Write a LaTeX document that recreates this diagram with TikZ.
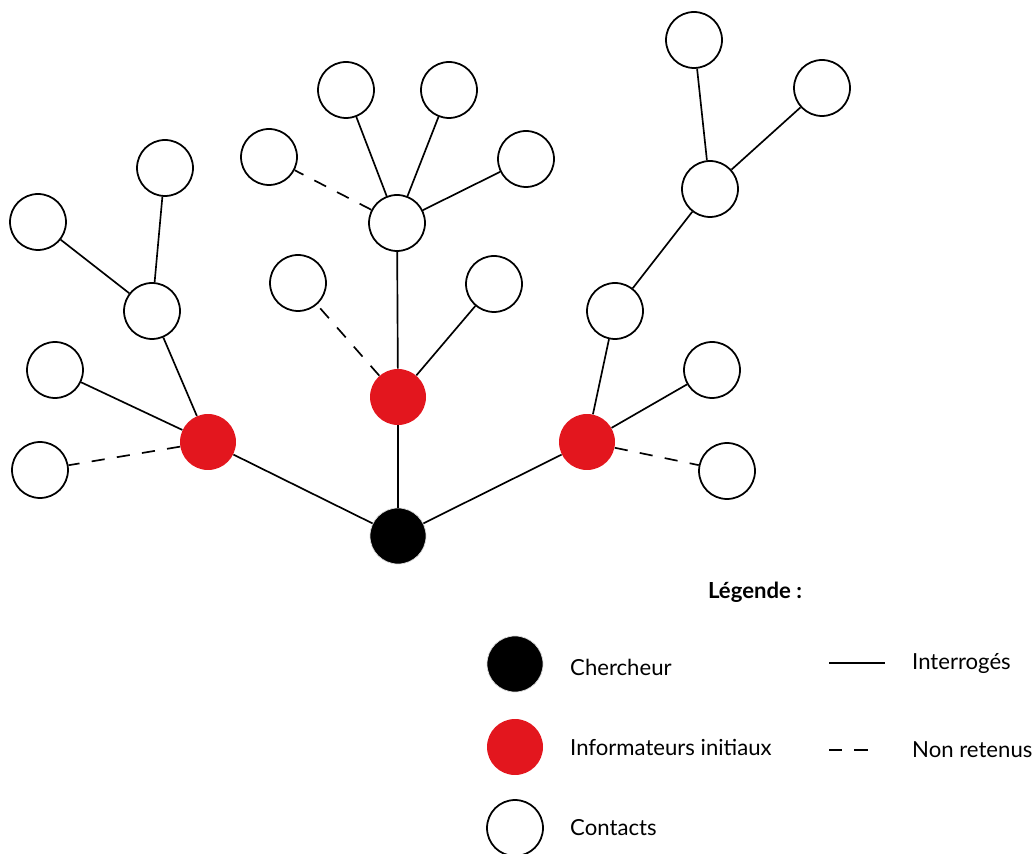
\documentclass[tikz,border=0pt]{standalone}
\usepackage{fontspec}
\setmainfont{Lato}
\usepackage{tikz}
\definecolor{rouge}{RGB}{227,22,30}
\tikzset{
  contact/.style={circle,draw,line width=1pt,fill=white,minimum size=1.12cm,inner sep=0pt},
  informateur/.style={circle,fill=rouge,minimum size=1.12cm,inner sep=0pt},
  chercheur/.style={circle,fill=black,draw=black!15,line width=0.4pt,minimum size=1.12cm,inner sep=0pt},
  interroge/.style={line width=0.95pt},
  nonretenu/.style={line width=0.95pt,dash pattern=on 7.5pt off 7pt},
  legtext/.style={anchor=west,font=\fontsize{12.6}{15}\selectfont}
}
\begin{document}
\begin{tikzpicture}[x=0.02cm,y=-0.02cm]
       \useasboundingbox(0,0)rectangle(1034,854);
       \node[chercheur](C)at(398,536){};
       \node[informateur](IL)at(208,442){};
       \node[informateur](IM)at(398,397){};
       \node[informateur](IR)at(587,442){};
       \node[contact](L1)at(152,311){};
       \node[contact](L2)at(38,222){};
       \node[contact](L3)at(165,168){};
       \node[contact](L4)at(55,370){};
       \node[contact](L5)at(40,470){};
       \node[contact](M1)at(397,223){};
       \node[contact](M2)at(346,90){};
       \node[contact](M3)at(449,90){};
       \node[contact](M4)at(526,159){};
       \node[contact](M5)at(269,157){};
       \node[contact](M6)at(494,284){};
       \node[contact](M7)at(298,283){};
       \node[contact](R1)at(615,311){};
       \node[contact](R2)at(710,189){};
       \node[contact](R3)at(694,40){};
       \node[contact](R4)at(822,88){};
       \node[contact](R5)at(712,370){};
       \node[contact](R6)at(727,471){};
       \draw[interroge](C)--(IL);
       \draw[interroge](C)--(IM);
       \draw[interroge](C)--(IR);
       \draw[interroge](IL)--(L1);
       \draw[interroge](L1)--(L2);
       \draw[interroge](L1)--(L3);
       \draw[interroge](IL)--(L4);
       \draw[nonretenu](IL)--(L5);
       \draw[interroge](IM)--(M1);
       \draw[interroge](M1)--(M2);
       \draw[interroge](M1)--(M3);
       \draw[interroge](M1)--(M4);
       \draw[nonretenu](M1)--(M5);
       \draw[interroge](IM)--(M6);
       \draw[nonretenu](IM)--(M7);
       \draw[interroge](IR)--(R1);
       \draw[interroge](R1)--(R2);
       \draw[interroge](R2)--(R3);
       \draw[interroge](R2)--(R4);
       \draw[interroge](IR)--(R5);
       \draw[nonretenu](IR)--(R6);
       \node[font=\fontsize{12.6}{15}\selectfont\bfseries](T)at(755,592){Légende :};
       \node[chercheur](LC)at(515,664){};
       \node[informateur](LI)at(515,747){};
       \node[contact](LK)at(515,828){};
       \node[legtext](TC)at(564,667){Chercheur};
       \node[legtext](TI)at(564,747){Informateurs initiaux};
       \node[legtext](TK)at(564,828){Contacts};
       \coordinate(A1)at(829,663);
       \coordinate(B1)at(885,663);
       \coordinate(A2)at(829,750);
       \coordinate(B2)at(873,750);
       \draw[interroge](A1)--(B1);
       \draw[nonretenu](A2)--(B2);
       \node[legtext](TS)at(906,663){Interrogés};
       \node[legtext](TD)at(906,750){Non retenus};
      \end{tikzpicture}
\end{document}
